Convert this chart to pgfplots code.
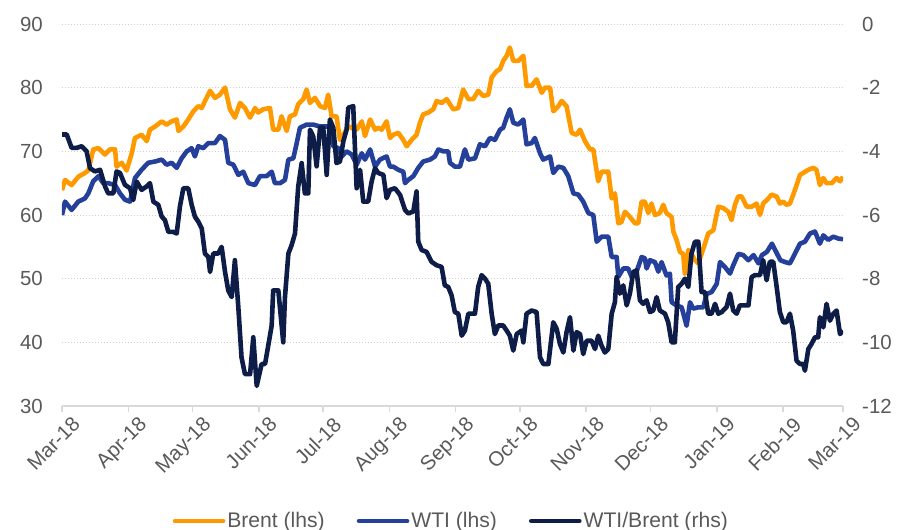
\documentclass[border=0pt]{standalone}
\usepackage{pgfplots}
\pgfplotsset{compat=1.18}
\usepackage{fontspec}
\setmainfont{Liberation Sans}
\definecolor{brent}{HTML}{FF9900}
\definecolor{wti}{HTML}{24409A}
\definecolor{spread}{HTML}{0E1D48}
\definecolor{lab}{HTML}{595959}
\definecolor{axc}{HTML}{D9D9D9}
\definecolor{gridc}{HTML}{D0D0D0}
\begin{document}
\begin{tikzpicture}
\useasboundingbox (-62bp,-124bp) rectangle (835bp,406bp);
\pgfplotsset{
  base/.style={
    scale only axis, width=781bp, height=382bp, at={(0,0)}, anchor=south west,
    xmin=0, xmax=365,
    ticklabel style={font=\fontsize{20.5}{24}\selectfont, text=lab},
    every axis plot/.append style={line width=4.6bp, line join=round},
  }
}
\begin{axis}[base,
  ymin=30, ymax=90,
  ytick={30,40,50,60,70,80,90}, yticklabels={30,40,50,60,70,80,90},
  axis x line*=bottom, axis y line*=left,
  y axis line style={draw=none},
  x axis line style={axc, line width=1.5bp},
  xtick={0,31,61,92,122,153,184,214,245,275,306,337,365},
  xticklabels={Mar-18,Apr-18,May-18,Jun-18,Jul-18,Aug-18,Sep-18,Oct-18,Nov-18,Dec-18,Jan-19,Feb-19,Mar-19},
  xticklabel style={rotate=45, anchor=north east, inner sep=0pt, xshift=4bp, yshift=-9bp},
  tick align=outside, major tick length=6bp,
  xtick style={axc, line width=1.5bp},
  ytick style={draw=none},
  yticklabel style={inner sep=0pt, xshift=-13bp},
  ymajorgrids, grid style={gridc, line width=0.8bp, dash pattern=on 1.5bp off 1.5bp},
]
\addplot[brent] coordinates {(0,63.9)(1.4,65.5)(4.5,64.7)(7.6,66)(10.7,66.6)(12.3,67)(14.6,70.3)(17,70.5)(20.1,69.5)(22.4,70.3)(24.8,70.3)(25.5,67.6)(27.9,68.2)(30.2,67)(32.6,69.7)(34.1,72.1)(37.2,72.6)(39.6,71.6)(41.1,73.4)(43.5,73.9)(46.6,74.7)(48.9,74.2)(51.2,74.7)(53.6,75)(54.4,73.2)(56.7,73.9)(59,75)(61.4,76.3)(63.7,77.1)(65.3,76.8)(66.8,77.9)(69.2,79.5)(71.5,78.4)(73.8,78.9)(76.2,80)(78.5,76.6)(80.8,75.3)(83.2,77.6)(85.5,76.8)(87.9,75.3)(90.2,76.8)(91.7,76.1)(94,76.6)(97.2,76.8)(98.7,73.4)(101.1,73.4)(102.6,75.5)(105,73.2)(106.5,75.5)(108.9,75.8)(110.4,77.4)(112.8,78.2)(114.3,79.7)(115.9,77.6)(118.2,78.4)(120.6,77.1)(122.9,76.8)(124.4,78.9)(126,75.5)(128.3,75.5)(129.9,71.8)(131.5,72.6)(133.8,73.9)(135.4,73.7)(137.7,73.4)(140.1,74.7)(141.6,72.4)(144,75)(146.3,73.4)(147.8,73.7)(149.4,73.4)(151.7,74.7)(153.3,72.1)(154.8,72.6)(157.2,72.9)(159.5,71.8)(161.1,70.8)(163.4,71.8)(165.7,72.6)(167.3,74.5)(168.8,75.8)(171.2,76.1)(173.5,76.6)(175.1,77.9)(177.4,77.6)(179.8,78.2)(181.3,77.4)(182.9,76.6)(185.2,76.8)(187.5,79.7)(189.9,78.2)(192.2,78.2)(194.5,79.5)(196.9,78.7)(199.2,78.9)(200.8,81.6)(203.1,82.6)(204.7,82.9)(206.2,84.2)(207.8,85)(209.3,86.3)(210.9,84.2)(213.2,84.2)(215.6,85)(217.1,80.3)(219.5,80.3)(221.8,81.3)(224.2,79.2)(225.7,80)(228.1,80)(229.6,76.3)(232,77.1)(233.5,77.9)(235.8,77.1)(238.2,72.9)(240.5,72.6)(242.1,73.4)(244.4,71.6)(246.8,70.3)(248.3,70.3)(250.6,65.3)(252.2,66.8)(255.3,66.8)(256.9,62.6)(258.4,63.4)(260,58.7)(261.5,58.9)(263.1,60.5)(265.4,59.7)(267.8,58.7)(269.3,58.7)(270.9,62.1)(272.4,62.1)(274,60.3)(275.5,61.8)(277.1,60)(279.4,60.3)(281,61.6)(282.5,60.3)(284.9,59.7)(285.7,57.4)(287.2,56.1)(288.8,54.2)(290.3,53.9)(291.1,50.8)(292.7,54.5)(294.2,53.9)(295.8,52.9)(297.4,52.4)(298.9,53.9)(300.5,55.5)(302,57.1)(304.4,57.6)(306.7,61.3)(309,61.1)(311.4,60.5)(312.9,59.2)(314.5,61.6)(316,62.9)(317.6,62.9)(320,61.3)(322.3,61.3)(324.6,61.8)(326.2,60)(327.7,61.8)(330.1,62.6)(331.6,63.2)(334,62.9)(335.5,61.8)(337.1,62.1)(338.6,61.6)(340.2,61.8)(342.5,63.9)(344.9,66.3)(346.4,66.6)(348.8,67.1)(351.1,67.4)(352.6,67.1)(354.2,64.7)(355.8,65.8)(357.3,65)(359.7,65)(362,65.8)(363.6,65.3)(365,66)};
\addplot[wti] coordinates {(0,60)(1.4,62.1)(4.5,60.8)(7.6,62.1)(10.7,62.6)(12.3,63.4)(14.6,65.3)(17,66.1)(19.3,65)(21.6,65)(24.8,64.7)(27.1,63.4)(29.4,62.4)(31.8,62.1)(34.1,65.8)(37.2,67.1)(40.3,68.2)(43.5,68.4)(46.6,68.7)(48.9,67.9)(51.2,68.2)(53.6,67.4)(55.9,68.9)(58.3,70)(60.6,70.5)(62.1,69.2)(63.7,70.8)(66,70.5)(68.4,71.3)(71.5,71.3)(73.8,72.4)(76.2,71.8)(77.7,68.2)(80.1,67.9)(82.4,66.3)(84.7,66.8)(87.1,65)(90.2,64.7)(92.5,66.1)(95.6,66.1)(98,66.8)(99.5,65)(101.9,65)(104.2,65.5)(105.8,68.7)(108.1,68.9)(109.7,71.3)(111.2,73.7)(114.3,74.2)(117.4,74.2)(120.6,73.9)(122.9,73.9)(125.2,73.9)(126.8,70.8)(129.1,70.5)(130.7,69.2)(133,70)(135.4,69.5)(137.7,67.9)(140.1,69.7)(141.6,68.7)(144,70.3)(146.3,67.6)(148.6,68.7)(151.7,69.2)(153.3,67.6)(154.8,67.6)(157.2,67.1)(159.5,66.8)(160.3,65)(161.8,65.5)(164.2,66.1)(166.5,67.4)(168.8,68.4)(172,68.7)(174.3,69.2)(175.9,70.3)(178.2,70)(180.5,70)(181.3,68.2)(183.6,67.6)(186,67.6)(188.3,70.3)(189.9,68.7)(193,68.9)(195.3,71.1)(197.7,70.8)(200,72.1)(202.3,71.8)(204.7,73.4)(206.2,73.7)(207.8,75.3)(209.3,76.6)(210.9,74.5)(213.2,74.2)(215.6,75)(217.1,71.1)(219.5,71.3)(221,72.1)(223.4,69.7)(224.9,68.7)(228.1,69.2)(229.6,66.6)(232,67.6)(234.3,67.4)(236.6,66.1)(239,63.4)(241.3,63.2)(243.6,62.1)(246,60.3)(248.3,60)(249.9,55.8)(252.2,56.6)(255.3,56.6)(256.9,53.4)(259.2,53.4)(260,50.3)(262.3,51.6)(264.6,51.6)(266.2,50.3)(268.5,51.1)(270.9,53.4)(272.4,53.2)(273.2,51.6)(274.8,52.9)(277.1,52.6)(278.7,51.1)(280.2,52.6)(282.5,50.5)(284.1,50.8)(284.9,46.3)(287.2,45.8)(289.6,45.5)(291.9,42.6)(293.5,46.3)(295,45.3)(297.4,45.5)(299.7,45.5)(301.3,47.6)(303.6,47.9)(306,49.2)(307.5,52.6)(309.9,51.8)(312.2,50.8)(313.7,52.1)(316.1,53.9)(318.4,53.7)(320.8,52.9)(323.2,53.7)(325.5,52.4)(327.1,53.7)(329.4,54.2)(331.8,55.5)(333.3,54.5)(335.7,52.9)(338,52.6)(340.2,52.4)(342.5,53.9)(344.9,55.5)(347.2,55.8)(349.6,57.1)(351.9,57.4)(354.2,55.5)(355.8,56.8)(358.1,56.1)(360.5,56.6)(362.8,56.3)(365,56.2)};
\end{axis}
\begin{axis}[base,
  ymin=-12, ymax=0,
  axis x line=none, axis y line*=right,
  y axis line style={draw=none},
  ytick={-12,-10,-8,-6,-4,-2,0}, yticklabels={-12,-10,-8,-6,-4,-2,0},
  ytick style={draw=none},
  yticklabel style={inner sep=0pt, xshift=19bp},
  legend style={at={(0.4985,-0.301)}, anchor=center, draw=none, fill=none,
    legend columns=3, font=\fontsize{21.2}{25}\selectfont, text=lab,
    /tikz/every even column/.append style={column sep=30bp}},
  legend image code/.code={\draw[#1, line cap=round] (0bp,0bp) -- (48bp,0bp);},
]
\addlegendimage{brent, line width=4.6bp}
\addlegendentry{Brent (lhs)}
\addlegendimage{wti, line width=4.6bp}
\addlegendentry{WTI (lhs)}
\addplot[spread] coordinates {(0,-3.47)(2.2,-3.47)(4.5,-3.89)(6.9,-3.89)(9.2,-3.84)(11.5,-4)(13.1,-4.53)(15.4,-4.63)(17.8,-4.58)(20.1,-5.1)(21.6,-5.32)(24,-5.32)(25.5,-4.63)(27.1,-4.68)(29.4,-5.05)(31.8,-5.16)(33.3,-5.53)(34.9,-4.95)(37.2,-5.21)(39.6,-5.1)(41.1,-5)(42.7,-5.58)(45,-5.68)(46.6,-6.05)(48.1,-6.16)(49.7,-6.53)(52,-6.53)(53.6,-6.58)(55.1,-5.74)(56.7,-5.16)(59,-5.16)(60.6,-5.68)(62.1,-6.05)(63.7,-6.21)(65.3,-6.42)(66.8,-7.21)(68.4,-7.32)(69.2,-7.79)(70.7,-7.21)(73,-7.21)(74.6,-7)(76.2,-7.79)(77.7,-8.37)(79.3,-8.58)(80.8,-7.42)(82.4,-8.89)(83.9,-10.47)(85.5,-11)(87.9,-11)(89.4,-9.84)(91,-11.37)(93.3,-10.68)(94.9,-10.68)(96.4,-10.1)(98,-9.47)(98.7,-8.37)(101.1,-8.37)(103.4,-10)(104.2,-8.58)(105.8,-7.21)(107.3,-6.95)(108.9,-6.58)(110.4,-5.1)(112,-4.37)(113.5,-5.32)(115.1,-5.32)(115.9,-3.32)(117.4,-3.53)(119,-4.47)(120.6,-3.26)(122.1,-3.26)(123.7,-4.74)(125.2,-3)(126.8,-3.26)(128.3,-4.37)(129.9,-4.32)(131.5,-3.68)(133,-3.32)(133.8,-2.63)(136.1,-2.58)(137.7,-5.16)(139.3,-4.58)(140.8,-5.58)(143.1,-5.58)(144.7,-4.95)(146.3,-4.53)(147.8,-4.68)(150.2,-4.74)(151.7,-5.47)(153.3,-5.21)(155.6,-5.16)(158,-5.37)(160.3,-5.84)(161.8,-5.95)(164.2,-5.89)(165.7,-5.26)(166.5,-6.84)(168.1,-7.1)(170.4,-7.16)(172.7,-7.47)(175.1,-7.58)(177.4,-7.63)(178.9,-8.21)(180.5,-8.26)(182.1,-8.53)(183.6,-9.05)(185.2,-9.1)(186.8,-9.79)(188.3,-9.63)(189.9,-9.1)(193,-9.1)(194.5,-8.26)(196.1,-7.89)(197.7,-8)(199.2,-8.16)(200.8,-9.1)(202.3,-9.74)(203.9,-9.47)(206.2,-9.47)(207.8,-9.63)(209.3,-9.79)(210.9,-10.26)(212.5,-9.74)(214.8,-9.63)(215.6,-10)(217.1,-9.1)(219.5,-9)(221.8,-9.05)(223.4,-10.47)(224.9,-10.68)(227.3,-10.68)(229.6,-9.37)(231.2,-9.58)(232.7,-10.05)(234.3,-10.32)(235.8,-9.68)(237.4,-9.21)(239,-10.26)(240.5,-9.68)(242.1,-9.74)(243.6,-10.37)(245.2,-9.95)(247.5,-9.95)(249.1,-10.21)(250.6,-9.79)(252.2,-10.11)(253.7,-10.32)(255.3,-10.21)(256.9,-9.1)(258.4,-8.74)(259.2,-7.95)(260.7,-8.47)(262.3,-8.21)(263.9,-8.84)(265.4,-8.47)(267,-7.79)(268.5,-7.74)(270.1,-8.68)(271.6,-8.79)(273.2,-8.68)(274.8,-9.05)(276.3,-9)(277.9,-8.58)(279.4,-9)(281.8,-9.1)(283.3,-9.37)(284.9,-10)(286.4,-10)(288,-8.26)(289.6,-8.16)(291.1,-8)(292.7,-8.26)(294.2,-7.21)(295.8,-6.84)(297.4,-6.84)(298.9,-8.42)(300.5,-8.42)(302,-9.1)(303.6,-9.1)(305.2,-8.79)(306.7,-9.1)(308.3,-9.05)(310.6,-8.89)(312.2,-8.47)(313.7,-9)(315.3,-9.1)(316.8,-8.84)(319.2,-8.84)(320.8,-8.84)(322.3,-7.95)(323.8,-7.89)(326.2,-7.89)(327.7,-7.42)(329.3,-8.05)(330.8,-7.47)(332.4,-7.47)(334,-8.26)(335.5,-9.05)(337.1,-9.37)(338.6,-9.37)(340.2,-9.1)(341.7,-9.63)(343.3,-10.58)(344.9,-10.68)(346.4,-10.68)(347.2,-10.89)(348.8,-10.21)(350.3,-10.05)(351.9,-9.84)(353.4,-9.84)(354.2,-9.21)(355.8,-9.53)(357.3,-8.79)(358.9,-9.32)(360.5,-9.1)(362,-9)(363.6,-9.74)(365,-9.63)};
\addlegendentry{WTI/Brent (rhs)}
\end{axis}
\end{tikzpicture}
\end{document}
